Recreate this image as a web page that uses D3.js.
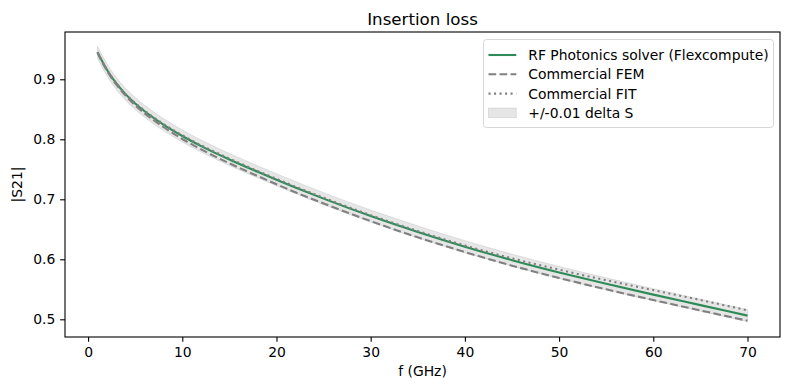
<!DOCTYPE html>
<html>
<head>
<meta charset="utf-8">
<script src="https://cdn.jsdelivr.net/npm/d3@7"></script>
<style>
  html, body { margin: 0; padding: 0; background: #fff; }
  svg { display: block; font-family: "DejaVu Sans", sans-serif; }
</style>
</head>
<body>
<svg id="chart" width="790" height="390"></svg>
<script>
// Frequencies (GHz)
const freqs  = [1, 2, 3, 4, 5, 6, 8, 10, 12, 15, 18, 20, 22, 25, 30, 35, 40, 45, 50, 55, 60, 65, 70];
// RF Photonics solver (Flexcompute) |S21|
const solver = [0.945, 0.916, 0.893, 0.8748, 0.8597, 0.8467, 0.8245, 0.8055, 0.7887, 0.7664, 0.7458, 0.7326, 0.7197, 0.7011, 0.6721, 0.6456, 0.6211, 0.5986, 0.5781, 0.5591, 0.5411, 0.5236, 0.5061];
// Commercial FEM |S21|
const fem    = [0.944, 0.9145, 0.891, 0.8723, 0.8567, 0.8432, 0.8205, 0.8005, 0.7832, 0.7599, 0.7388, 0.7251, 0.7117, 0.6931, 0.6636, 0.6366, 0.6121, 0.5894, 0.5689, 0.5499, 0.5321, 0.5148, 0.4976];
// Commercial FIT |S21|
const fit    = [0.945, 0.916, 0.8935, 0.8753, 0.8605, 0.8477, 0.8255, 0.8067, 0.7900, 0.7679, 0.7473, 0.7341, 0.7212, 0.7026, 0.6736, 0.6472, 0.6231, 0.6016, 0.5826, 0.5651, 0.5486, 0.5321, 0.5150];
const delta = 0.01;
const xTicks = [0, 10, 20, 30, 40, 50, 60, 70];
const yTicks = [0.5, 0.6, 0.7, 0.8, 0.9];
const legendLabels = ["RF Photonics solver (Flexcompute)", "Commercial FEM", "Commercial FIT", "+/-0.01 delta S"];

const svg = d3.select("#chart");
const m = { left: 65, right: 780, top: 32, bottom: 337 };
const FS = 13.9;

const x = d3.scaleLinear().domain([-2.45, 73.45]).range([m.left, m.right]);
const y = d3.scaleLinear().domain([0.4705, 0.9788]).range([m.bottom, m.top]);

const green = "#2e8b57";
const gray = "#808080";
const lw = 2.08;
const dashed = "7.7,3.33";
const dotted = "2.08,3.43";

// band
const band = d3.area()
  .x((d, i) => x(freqs[i]))
  .y0((d) => y(d - delta))
  .y1((d) => y(d + delta))
  .curve(d3.curveMonotoneX);
svg.append("path").datum(solver)
  .attr("d", band)
  .attr("fill", gray).attr("fill-opacity", 0.2)
  .attr("stroke", gray).attr("stroke-opacity", 0.2).attr("stroke-width", 1);

const line = d3.line()
  .x((d, i) => x(freqs[i]))
  .y((d) => y(d))
  .curve(d3.curveMonotoneX);

svg.append("path").datum(solver).attr("d", line)
  .attr("fill", "none").attr("stroke", green).attr("stroke-width", lw);
svg.append("path").datum(fem).attr("d", line)
  .attr("fill", "none").attr("stroke", gray).attr("stroke-width", lw)
  .attr("stroke-dasharray", dashed);
svg.append("path").datum(fit).attr("d", line)
  .attr("fill", "none").attr("stroke", gray).attr("stroke-width", lw)
  .attr("stroke-dasharray", dotted);

// axes
const tl = 4.86;
const xAxis = d3.axisBottom(x).tickValues(xTicks).tickSize(tl).tickPadding(tl).tickFormat(d3.format("d"));
const yAxis = d3.axisLeft(y).tickValues(yTicks).tickSize(tl).tickPadding(tl).tickFormat(d3.format(".1f"));

const gx = svg.append("g").attr("transform", `translate(0,${m.bottom})`).call(xAxis);
const gy = svg.append("g").attr("transform", `translate(${m.left},0)`).call(yAxis);
[gx, gy].forEach(g => {
  g.select(".domain").remove();
  g.selectAll(".tick line").attr("stroke", "#000").attr("stroke-width", 1.1);
  g.selectAll(".tick text").attr("fill", "#000").style("font-size", FS + "px").style("font-family", "DejaVu Sans");
});

// frame
svg.append("rect")
  .attr("x", m.left).attr("y", m.top)
  .attr("width", m.right - m.left).attr("height", m.bottom - m.top)
  .attr("fill", "none").attr("stroke", "#000").attr("stroke-width", 1.1);

// title & labels
svg.append("text").attr("x", (m.left + m.right) / 2).attr("y", 25)
  .attr("text-anchor", "middle").style("font-size", "16.67px").text("Insertion loss");
svg.append("text").attr("x", (m.left + m.right) / 2).attr("y", 376)
  .attr("text-anchor", "middle").style("font-size", FS + "px").text("f (GHz)");
svg.append("text").attr("transform", `translate(22,${(m.top + m.bottom) / 2}) rotate(-90)`)
  .attr("text-anchor", "middle").style("font-size", FS + "px").text("|S21|");

// legend
const lg = svg.append("g");
lg.append("rect").attr("x", 483.5).attr("y", 39.5).attr("width", 290).attr("height", 88)
  .attr("rx", 3).attr("fill", "#fff").attr("fill-opacity", 0.8)
  .attr("stroke", "#d6d6d6").attr("stroke-width", 1);
const rowY = [55, 74.3, 93.6, 112.9];
const styles = [
  { type: "line", stroke: green, dash: null },
  { type: "line", stroke: gray, dash: dashed },
  { type: "line", stroke: gray, dash: dotted },
  { type: "patch" }
];
legendLabels.forEach((lab, i) => {
  const s = styles[i];
  if (s.type === "line") {
    lg.append("line").attr("x1", 488.5).attr("x2", 516.3).attr("y1", rowY[i]).attr("y2", rowY[i])
      .attr("stroke", s.stroke).attr("stroke-width", lw)
      .attr("stroke-dasharray", s.dash);
  } else {
    lg.append("rect").attr("x", 488.5).attr("y", rowY[i] - 4.9).attr("width", 27.8).attr("height", 9.7)
      .attr("fill", gray).attr("fill-opacity", 0.2)
      .attr("stroke", gray).attr("stroke-opacity", 0.2).attr("stroke-width", 1);
  }
  lg.append("text").attr("x", 528.3).attr("y", rowY[i] + 5)
    .style("font-size", FS + "px").text(lab);
});
</script>
</body>
</html>
